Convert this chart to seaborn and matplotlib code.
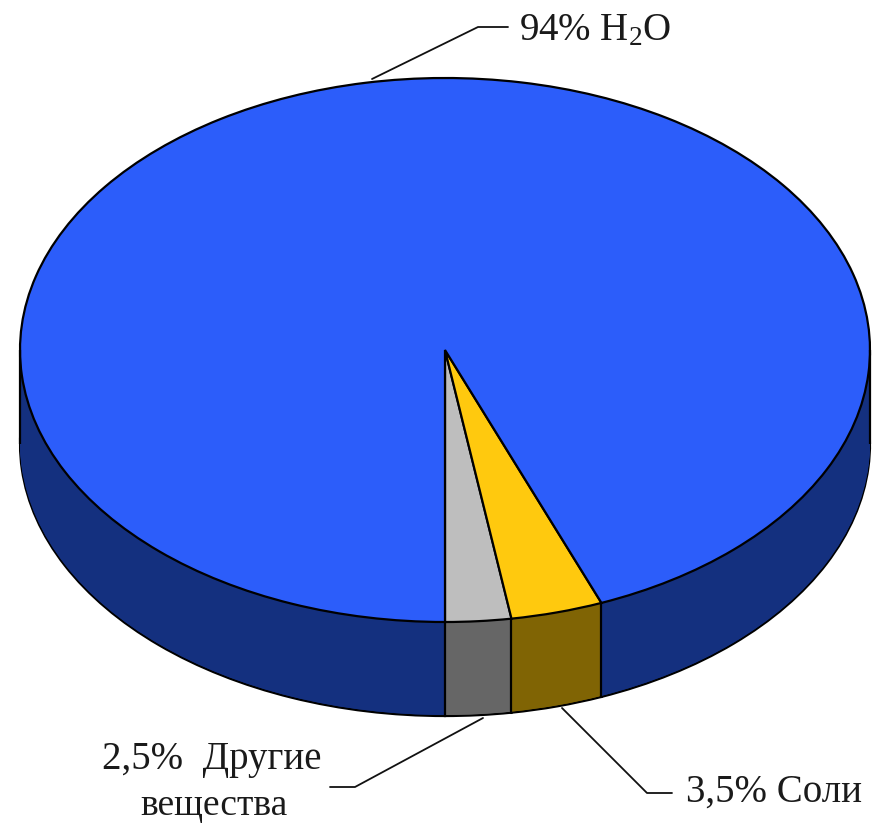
import matplotlib
matplotlib.use('Agg')
import matplotlib.pyplot as plt
import numpy as np
import seaborn as sns

values = [2.5, 3.5, 94]
top_colors = ['#BEBEBE', '#FFC90E', '#2C5DFA']
side_colors = ['#666666', '#806404', '#14307F']
labels = ['94% H$_2$O', '3,5% Соли', '2,5%  Другие', 'вещества']

sns.set_theme(style='white')
plt.rcParams['font.family'] = ['Liberation Serif', 'DejaVu Serif']
plt.rcParams['mathtext.default'] = 'regular'
plt.rcParams['mathtext.fontset'] = 'custom'
plt.rcParams['mathtext.rm'] = 'Liberation Serif'

W, H = 877, 825
CX, CY, RX, RY, DEPTH = 445, 350, 425, 272, 94


def px(x, y):
    # picture pixels -> pie data units
    return (x - CX) / RX, (CY - y) / RY


fig, ax = plt.subplots(figsize=(W / 100, H / 100), dpi=100)
ax.set_position([0, 0, 1, 1])

depth = DEPTH / RY
edge = {'edgecolor': 'black', 'linewidth': 1.6}

# side wall: the pie stacked downwards, outlined at the bottom
ax.pie(values, colors=side_colors, startangle=270, center=(0, -depth), wedgeprops=edge)
for d in np.linspace(depth, 0, DEPTH + 1)[1:]:
    ax.pie(values, colors=side_colors, startangle=270, center=(0, -d),
           wedgeprops={'linewidth': 0})

# slice boundaries on the wall
angles = np.deg2rad(np.cumsum([0] + values[:2]) * 3.6)
for a in angles:
    ax.plot([np.sin(a)] * 2, [-np.cos(a), -np.cos(a) - depth], color='black', lw=1.6)
ax.vlines([-1, 1], -depth, 0, color='black', lw=1.6)

ax.pie(values, colors=top_colors, startangle=270, wedgeprops=edge)

# leader lines
leaders = [
    [(372, 79), (478, 27), (508, 27)],
    [(562, 708), (647, 793), (672, 793)],
    [(483, 718), (355, 787), (330, 787)],
]
for pts in leaders:
    xy = np.array([px(*p) for p in pts])
    ax.plot(xy[:, 0], xy[:, 1], color='#111111', lw=1.3)

text_pos = [(519, 31, 'left', 28), (686, 792, 'left', 28), (102, 760, 'left', 28), (214, 806, 'center', 27)]
for s, (x, y, ha, size) in zip(labels, text_pos):
    tx, ty = px(x, y)
    ax.text(tx, ty, s, fontsize=size, ha=ha, va='center', color='#1a1a1a')

ax.set_aspect('auto')
ax.set_xlim(px(0, 0)[0], px(W, 0)[0])
ax.set_ylim(px(0, H)[1], px(0, 0)[1])
fig.savefig('out.png', dpi=100, facecolor='white')
